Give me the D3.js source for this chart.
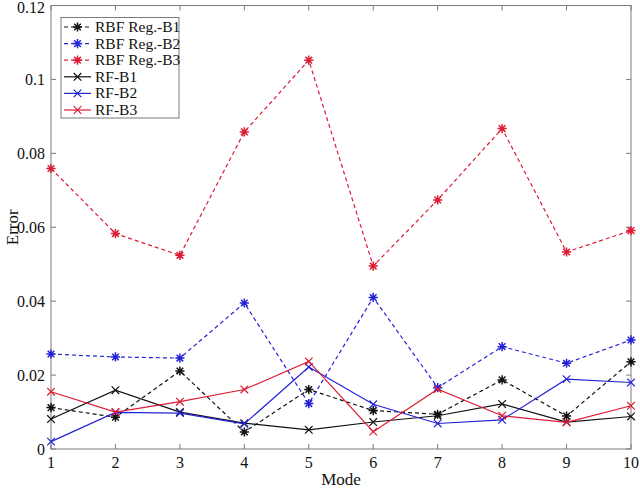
<!DOCTYPE html>
<html>
<head>
  <meta charset="UTF-8">
  <title>Error by mode</title>
  <style>
    body { margin: 0; background: #fff; }
    svg { display: block; font-family: "Liberation Serif", "Times New Roman", serif; }
  </style>
</head>
<body>
  <svg id="chart" width="640" height="491"></svg>

  <script src="https://d3js.org/d3.v7.min.js"></script>
  <script>
    const modes = [1, 2, 3, 4, 5, 6, 7, 8, 9, 10];
    const yTicks = [0, 0.02, 0.04, 0.06, 0.08, 0.1, 0.12];

    const rbfB1 = [0.0112, 0.0086, 0.0211, 0.0046, 0.0161, 0.0104, 0.0094, 0.0187, 0.0089, 0.0236];
    const rbfB2 = [0.0257, 0.0249, 0.0246, 0.0395, 0.0123, 0.0410, 0.0166, 0.0277, 0.0232, 0.0295];
    const rbfB3 = [0.0759, 0.0583, 0.0524, 0.0858, 0.1052, 0.0495, 0.0674, 0.0867, 0.0533, 0.0591];
    const rfB1 = [0.0081, 0.0159, 0.0100, 0.0070, 0.0052, 0.0073, 0.0090, 0.0122, 0.0073, 0.0088];
    const rfB2 = [0.0020, 0.0099, 0.0097, 0.0068, 0.0222, 0.0121, 0.0069, 0.0079, 0.0189, 0.0180];
    const rfB3 = [0.0155, 0.0100, 0.0128, 0.0161, 0.0237, 0.0047, 0.0162, 0.0090, 0.0072, 0.0117];

    const seriesNames = ["RBF Reg.-B1", "RBF Reg.-B2", "RBF Reg.-B3", "RF-B1", "RF-B2", "RF-B3"];

    const black = "#111", blue = "#2323d6", red = "#dc1c34";
    const series = [
      { name: seriesNames[0], values: rbfB1, color: black, dashed: true, marker: "star" },
      { name: seriesNames[1], values: rbfB2, color: blue, dashed: true, marker: "star" },
      { name: seriesNames[2], values: rbfB3, color: red, dashed: true, marker: "star" },
      { name: seriesNames[3], values: rfB1, color: black, dashed: false, marker: "x" },
      { name: seriesNames[4], values: rfB2, color: blue, dashed: false, marker: "x" },
      { name: seriesNames[5], values: rfB3, color: red, dashed: false, marker: "x" }
    ];

    const svg = d3.select("#chart");
    const box = { left: 51, right: 631, top: 5.5, bottom: 449 };
    const axisColor = "#7a7a7a";

    const x = d3.scaleLinear().domain([1, 10]).range([box.left, box.right]);
    const y = d3.scaleLinear().domain([0, 0.12]).range([box.bottom, box.top]);

    // markers: '*' for RBF, 'x' for RF
    function drawMarker(g, type, cx, cy, color) {
      const s = type === "star" ? 4.6 : 3.8;
      const d = s * 0.72;
      let path = `M${cx - s},${cy - s}L${cx + s},${cy + s}M${cx - s},${cy + s}L${cx + s},${cy - s}`;
      if (type === "star") {
        path = `M${cx - s},${cy}L${cx + s},${cy}M${cx},${cy - s}L${cx},${cy + s}` +
               `M${cx - d},${cy - d}L${cx + d},${cy + d}M${cx - d},${cy + d}L${cx + d},${cy - d}`;
      }
      g.append("path").attr("d", path).attr("stroke", color)
        .attr("stroke-width", type === "star" ? 1.5 : 1.2).attr("fill", "none");
    }

    // axes box
    const frame = svg.append("g");
    frame.append("rect")
      .attr("x", box.left).attr("y", box.top)
      .attr("width", box.right - box.left).attr("height", box.bottom - box.top)
      .attr("fill", "none").attr("stroke", axisColor).attr("stroke-width", 1);

    const tickLen = 5;
    modes.forEach(m => {
      frame.append("line").attr("x1", x(m)).attr("x2", x(m))
        .attr("y1", box.bottom).attr("y2", box.bottom - tickLen).attr("stroke", axisColor);
      frame.append("line").attr("x1", x(m)).attr("x2", x(m))
        .attr("y1", box.top).attr("y2", box.top + tickLen).attr("stroke", axisColor);
      frame.append("text").attr("x", x(m)).attr("y", box.bottom + 19)
        .attr("text-anchor", "middle").attr("font-size", 16).attr("fill", "#111")
        .text(d3.format("d")(m));
    });
    yTicks.forEach(t => {
      frame.append("line").attr("x1", box.left).attr("x2", box.left + tickLen)
        .attr("y1", y(t)).attr("y2", y(t)).attr("stroke", axisColor);
      frame.append("line").attr("x1", box.right).attr("x2", box.right - tickLen)
        .attr("y1", y(t)).attr("y2", y(t)).attr("stroke", axisColor);
      frame.append("text").attr("x", box.left - 6).attr("y", Math.max(y(t) + 5.5, 13))
        .attr("text-anchor", "end").attr("font-size", 16).attr("fill", "#111")
        .text(t === 0 ? "0" : d3.format("~g")(t));
    });

    svg.append("text").attr("x", (box.left + box.right) / 2).attr("y", 485)
      .attr("text-anchor", "middle").attr("font-size", 17).attr("fill", "#111").text("Mode");
    svg.append("text").attr("transform", `translate(18,${(box.top + box.bottom) / 2}) rotate(-90)`)
      .attr("text-anchor", "middle").attr("font-size", 17).attr("fill", "#111").text("Error");

    // lines
    const line = d3.line().x((d, i) => x(modes[i])).y(d => y(d));
    const plot = svg.append("g");
    series.forEach(s => {
      plot.append("path").datum(s.values).attr("d", line)
        .attr("fill", "none").attr("stroke", s.color).attr("stroke-width", 1.2)
        .attr("stroke-dasharray", s.dashed ? "4,3" : null);
      s.values.forEach((v, i) => drawMarker(plot, s.marker, x(modes[i]), y(v), s.color));
    });

    // legend
    const lg = svg.append("g");
    lg.append("rect").attr("x", 61).attr("y", 17.5).attr("width", 118).attr("height", 100.5)
      .attr("fill", "#fff").attr("stroke", axisColor).attr("stroke-width", 1);
    series.forEach((s, i) => {
      const ly = 27 + i * 16.6;
      lg.append("line").attr("x1", 64).attr("x2", 91).attr("y1", ly).attr("y2", ly)
        .attr("stroke", s.color).attr("stroke-width", 1.2)
        .attr("stroke-dasharray", s.dashed ? "4,3" : null);
      drawMarker(lg, s.marker, 77.5, ly, s.color);
      lg.append("text").attr("x", 95).attr("y", ly + 5).attr("font-size", 15.5)
        .attr("fill", "#111").text(s.name);
    });
  </script>
</body>
</html>
